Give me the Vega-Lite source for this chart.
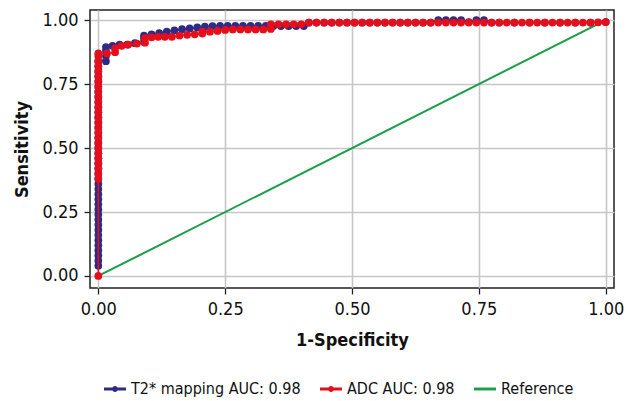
{
  "$schema": "https://vega.github.io/schema/vega-lite/v6.json",
  "width": 524,
  "height": 278,
  "autosize": "none",
  "padding": {"left": 90, "top": 10, "right": 20, "bottom": 113},
  "background": "white",
  "config": {
    "font": "DejaVu Sans Condensed, sans-serif",
    "view": {"stroke": "#222222", "strokeWidth": 1.5},
    "axis": {
      "labelFont": "DejaVu Sans Condensed, sans-serif",
      "titleFont": "DejaVu Sans Condensed, sans-serif",
      "labelFontSize": 18,
      "titleFontSize": 18,
      "titleFontWeight": "bold",
      "labelColor": "#111111",
      "titleColor": "#111111",
      "tickColor": "#222222",
      "tickSize": 6,
      "tickWidth": 1.3,
      "domain": false,
      "grid": true,
      "gridColor": "#C6C6C6",
      "gridWidth": 1.6
    }
  },
  "data": {
    "values": [
      {"s": "Reference", "x": 0, "y": 0},
      {"s": "Reference", "x": 1, "y": 1},

      {"s": "T2* mapping AUC: 0.98", "x": 0, "y": 0.04},
      {"s": "T2* mapping AUC: 0.98", "x": 0, "y": 0.06},
      {"s": "T2* mapping AUC: 0.98", "x": 0, "y": 0.08},
      {"s": "T2* mapping AUC: 0.98", "x": 0, "y": 0.10},
      {"s": "T2* mapping AUC: 0.98", "x": 0, "y": 0.12},
      {"s": "T2* mapping AUC: 0.98", "x": 0, "y": 0.14},
      {"s": "T2* mapping AUC: 0.98", "x": 0, "y": 0.16},
      {"s": "T2* mapping AUC: 0.98", "x": 0, "y": 0.18},
      {"s": "T2* mapping AUC: 0.98", "x": 0, "y": 0.20},
      {"s": "T2* mapping AUC: 0.98", "x": 0, "y": 0.22},
      {"s": "T2* mapping AUC: 0.98", "x": 0, "y": 0.24},
      {"s": "T2* mapping AUC: 0.98", "x": 0, "y": 0.26},
      {"s": "T2* mapping AUC: 0.98", "x": 0, "y": 0.28},
      {"s": "T2* mapping AUC: 0.98", "x": 0, "y": 0.30},
      {"s": "T2* mapping AUC: 0.98", "x": 0, "y": 0.32},
      {"s": "T2* mapping AUC: 0.98", "x": 0, "y": 0.34},
      {"s": "T2* mapping AUC: 0.98", "x": 0, "y": 0.36},
      {"s": "T2* mapping AUC: 0.98", "x": 0, "y": 0.38},
      {"s": "T2* mapping AUC: 0.98", "x": 0, "y": 0.40},
      {"s": "T2* mapping AUC: 0.98", "x": 0, "y": 0.42},
      {"s": "T2* mapping AUC: 0.98", "x": 0, "y": 0.44},
      {"s": "T2* mapping AUC: 0.98", "x": 0, "y": 0.46},
      {"s": "T2* mapping AUC: 0.98", "x": 0, "y": 0.48},
      {"s": "T2* mapping AUC: 0.98", "x": 0, "y": 0.50},
      {"s": "T2* mapping AUC: 0.98", "x": 0, "y": 0.52},
      {"s": "T2* mapping AUC: 0.98", "x": 0, "y": 0.54},
      {"s": "T2* mapping AUC: 0.98", "x": 0, "y": 0.56},
      {"s": "T2* mapping AUC: 0.98", "x": 0, "y": 0.58},
      {"s": "T2* mapping AUC: 0.98", "x": 0, "y": 0.60},
      {"s": "T2* mapping AUC: 0.98", "x": 0, "y": 0.62},
      {"s": "T2* mapping AUC: 0.98", "x": 0, "y": 0.64},
      {"s": "T2* mapping AUC: 0.98", "x": 0, "y": 0.66},
      {"s": "T2* mapping AUC: 0.98", "x": 0, "y": 0.68},
      {"s": "T2* mapping AUC: 0.98", "x": 0, "y": 0.70},
      {"s": "T2* mapping AUC: 0.98", "x": 0, "y": 0.72},
      {"s": "T2* mapping AUC: 0.98", "x": 0, "y": 0.74},
      {"s": "T2* mapping AUC: 0.98", "x": 0, "y": 0.76},
      {"s": "T2* mapping AUC: 0.98", "x": 0, "y": 0.78},
      {"s": "T2* mapping AUC: 0.98", "x": 0, "y": 0.80},
      {"s": "T2* mapping AUC: 0.98", "x": 0, "y": 0.82},
      {"s": "T2* mapping AUC: 0.98", "x": 0, "y": 0.84},
      {"s": "T2* mapping AUC: 0.98", "x": 0.015, "y": 0.84},
      {"s": "T2* mapping AUC: 0.98", "x": 0.015, "y": 0.86},
      {"s": "T2* mapping AUC: 0.98", "x": 0.015, "y": 0.88},
      {"s": "T2* mapping AUC: 0.98", "x": 0.015, "y": 0.895},
      {"s": "T2* mapping AUC: 0.98", "x": 0.028, "y": 0.90},
      {"s": "T2* mapping AUC: 0.98", "x": 0.042, "y": 0.905},
      {"s": "T2* mapping AUC: 0.98", "x": 0.057, "y": 0.905},
      {"s": "T2* mapping AUC: 0.98", "x": 0.072, "y": 0.91},
      {"s": "T2* mapping AUC: 0.98", "x": 0.09, "y": 0.915},
      {"s": "T2* mapping AUC: 0.98", "x": 0.09, "y": 0.93},
      {"s": "T2* mapping AUC: 0.98", "x": 0.09, "y": 0.94},
      {"s": "T2* mapping AUC: 0.98", "x": 0.105, "y": 0.945},
      {"s": "T2* mapping AUC: 0.98", "x": 0.12, "y": 0.95},
      {"s": "T2* mapping AUC: 0.98", "x": 0.135, "y": 0.955},
      {"s": "T2* mapping AUC: 0.98", "x": 0.15, "y": 0.96},
      {"s": "T2* mapping AUC: 0.98", "x": 0.165, "y": 0.965},
      {"s": "T2* mapping AUC: 0.98", "x": 0.18, "y": 0.968},
      {"s": "T2* mapping AUC: 0.98", "x": 0.195, "y": 0.972},
      {"s": "T2* mapping AUC: 0.98", "x": 0.21, "y": 0.975},
      {"s": "T2* mapping AUC: 0.98", "x": 0.225, "y": 0.977},
      {"s": "T2* mapping AUC: 0.98", "x": 0.24, "y": 0.978},
      {"s": "T2* mapping AUC: 0.98", "x": 0.255, "y": 0.978},
      {"s": "T2* mapping AUC: 0.98", "x": 0.27, "y": 0.978},
      {"s": "T2* mapping AUC: 0.98", "x": 0.285, "y": 0.978},
      {"s": "T2* mapping AUC: 0.98", "x": 0.30, "y": 0.978},
      {"s": "T2* mapping AUC: 0.98", "x": 0.315, "y": 0.978},
      {"s": "T2* mapping AUC: 0.98", "x": 0.33, "y": 0.978},
      {"s": "T2* mapping AUC: 0.98", "x": 0.345, "y": 0.977},
      {"s": "T2* mapping AUC: 0.98", "x": 0.36, "y": 0.977},
      {"s": "T2* mapping AUC: 0.98", "x": 0.375, "y": 0.977},
      {"s": "T2* mapping AUC: 0.98", "x": 0.39, "y": 0.977},
      {"s": "T2* mapping AUC: 0.98", "x": 0.405, "y": 0.977},
      {"s": "T2* mapping AUC: 0.98", "x": 0.415, "y": 0.991},
      {"s": "T2* mapping AUC: 0.98", "x": 0.43, "y": 0.991},
      {"s": "T2* mapping AUC: 0.98", "x": 0.445, "y": 0.991},
      {"s": "T2* mapping AUC: 0.98", "x": 0.46, "y": 0.991},
      {"s": "T2* mapping AUC: 0.98", "x": 0.475, "y": 0.991},
      {"s": "T2* mapping AUC: 0.98", "x": 0.49, "y": 0.991},
      {"s": "T2* mapping AUC: 0.98", "x": 0.505, "y": 0.991},
      {"s": "T2* mapping AUC: 0.98", "x": 0.52, "y": 0.991},
      {"s": "T2* mapping AUC: 0.98", "x": 0.535, "y": 0.991},
      {"s": "T2* mapping AUC: 0.98", "x": 0.55, "y": 0.991},
      {"s": "T2* mapping AUC: 0.98", "x": 0.565, "y": 0.991},
      {"s": "T2* mapping AUC: 0.98", "x": 0.58, "y": 0.991},
      {"s": "T2* mapping AUC: 0.98", "x": 0.595, "y": 0.991},
      {"s": "T2* mapping AUC: 0.98", "x": 0.61, "y": 0.991},
      {"s": "T2* mapping AUC: 0.98", "x": 0.625, "y": 0.991},
      {"s": "T2* mapping AUC: 0.98", "x": 0.64, "y": 0.991},
      {"s": "T2* mapping AUC: 0.98", "x": 0.655, "y": 0.991},
      {"s": "T2* mapping AUC: 0.98", "x": 0.67, "y": 1.0},
      {"s": "T2* mapping AUC: 0.98", "x": 0.685, "y": 1.0},
      {"s": "T2* mapping AUC: 0.98", "x": 0.70, "y": 1.0},
      {"s": "T2* mapping AUC: 0.98", "x": 0.715, "y": 1.0},
      {"s": "T2* mapping AUC: 0.98", "x": 0.73, "y": 0.993},
      {"s": "T2* mapping AUC: 0.98", "x": 0.745, "y": 1.0},
      {"s": "T2* mapping AUC: 0.98", "x": 0.76, "y": 1.0},
      {"s": "T2* mapping AUC: 0.98", "x": 0.775, "y": 0.991},
      {"s": "T2* mapping AUC: 0.98", "x": 0.79, "y": 0.991},
      {"s": "T2* mapping AUC: 0.98", "x": 0.82, "y": 0.991},
      {"s": "T2* mapping AUC: 0.98", "x": 0.85, "y": 0.991},
      {"s": "T2* mapping AUC: 0.98", "x": 0.88, "y": 0.991},
      {"s": "T2* mapping AUC: 0.98", "x": 0.91, "y": 0.991},
      {"s": "T2* mapping AUC: 0.98", "x": 0.94, "y": 0.991},
      {"s": "T2* mapping AUC: 0.98", "x": 0.97, "y": 0.991},
      {"s": "T2* mapping AUC: 0.98", "x": 1.0, "y": 0.993},

      {"s": "ADC AUC: 0.98", "x": 0, "y": 0},
      {"s": "ADC AUC: 0.98", "x": 0, "y": 0.38},
      {"s": "ADC AUC: 0.98", "x": 0, "y": 0.40},
      {"s": "ADC AUC: 0.98", "x": 0, "y": 0.42},
      {"s": "ADC AUC: 0.98", "x": 0, "y": 0.44},
      {"s": "ADC AUC: 0.98", "x": 0, "y": 0.46},
      {"s": "ADC AUC: 0.98", "x": 0, "y": 0.48},
      {"s": "ADC AUC: 0.98", "x": 0, "y": 0.50},
      {"s": "ADC AUC: 0.98", "x": 0, "y": 0.52},
      {"s": "ADC AUC: 0.98", "x": 0, "y": 0.54},
      {"s": "ADC AUC: 0.98", "x": 0, "y": 0.56},
      {"s": "ADC AUC: 0.98", "x": 0, "y": 0.58},
      {"s": "ADC AUC: 0.98", "x": 0, "y": 0.60},
      {"s": "ADC AUC: 0.98", "x": 0, "y": 0.62},
      {"s": "ADC AUC: 0.98", "x": 0, "y": 0.64},
      {"s": "ADC AUC: 0.98", "x": 0, "y": 0.66},
      {"s": "ADC AUC: 0.98", "x": 0, "y": 0.68},
      {"s": "ADC AUC: 0.98", "x": 0, "y": 0.70},
      {"s": "ADC AUC: 0.98", "x": 0, "y": 0.72},
      {"s": "ADC AUC: 0.98", "x": 0, "y": 0.74},
      {"s": "ADC AUC: 0.98", "x": 0, "y": 0.76},
      {"s": "ADC AUC: 0.98", "x": 0, "y": 0.78},
      {"s": "ADC AUC: 0.98", "x": 0, "y": 0.80},
      {"s": "ADC AUC: 0.98", "x": 0, "y": 0.82},
      {"s": "ADC AUC: 0.98", "x": 0, "y": 0.84},
      {"s": "ADC AUC: 0.98", "x": 0, "y": 0.86},
      {"s": "ADC AUC: 0.98", "x": 0, "y": 0.87},
      {"s": "ADC AUC: 0.98", "x": 0.017, "y": 0.87},
      {"s": "ADC AUC: 0.98", "x": 0.033, "y": 0.875},
      {"s": "ADC AUC: 0.98", "x": 0.033, "y": 0.89},
      {"s": "ADC AUC: 0.98", "x": 0.046, "y": 0.90},
      {"s": "ADC AUC: 0.98", "x": 0.059, "y": 0.905},
      {"s": "ADC AUC: 0.98", "x": 0.076, "y": 0.909},
      {"s": "ADC AUC: 0.98", "x": 0.092, "y": 0.912},
      {"s": "ADC AUC: 0.98", "x": 0.092, "y": 0.93},
      {"s": "ADC AUC: 0.98", "x": 0.105, "y": 0.933},
      {"s": "ADC AUC: 0.98", "x": 0.118, "y": 0.935},
      {"s": "ADC AUC: 0.98", "x": 0.131, "y": 0.935},
      {"s": "ADC AUC: 0.98", "x": 0.145, "y": 0.935},
      {"s": "ADC AUC: 0.98", "x": 0.16, "y": 0.94},
      {"s": "ADC AUC: 0.98", "x": 0.175, "y": 0.943},
      {"s": "ADC AUC: 0.98", "x": 0.19, "y": 0.945},
      {"s": "ADC AUC: 0.98", "x": 0.205, "y": 0.948},
      {"s": "ADC AUC: 0.98", "x": 0.205, "y": 0.955},
      {"s": "ADC AUC: 0.98", "x": 0.22, "y": 0.955},
      {"s": "ADC AUC: 0.98", "x": 0.235, "y": 0.958},
      {"s": "ADC AUC: 0.98", "x": 0.25, "y": 0.962},
      {"s": "ADC AUC: 0.98", "x": 0.265, "y": 0.964},
      {"s": "ADC AUC: 0.98", "x": 0.28, "y": 0.964},
      {"s": "ADC AUC: 0.98", "x": 0.295, "y": 0.964},
      {"s": "ADC AUC: 0.98", "x": 0.31, "y": 0.964},
      {"s": "ADC AUC: 0.98", "x": 0.325, "y": 0.964},
      {"s": "ADC AUC: 0.98", "x": 0.34, "y": 0.966},
      {"s": "ADC AUC: 0.98", "x": 0.34, "y": 0.984},
      {"s": "ADC AUC: 0.98", "x": 0.355, "y": 0.984},
      {"s": "ADC AUC: 0.98", "x": 0.37, "y": 0.984},
      {"s": "ADC AUC: 0.98", "x": 0.385, "y": 0.984},
      {"s": "ADC AUC: 0.98", "x": 0.40, "y": 0.984},
      {"s": "ADC AUC: 0.98", "x": 0.415, "y": 0.991},
      {"s": "ADC AUC: 0.98", "x": 0.43, "y": 0.991},
      {"s": "ADC AUC: 0.98", "x": 0.445, "y": 0.991},
      {"s": "ADC AUC: 0.98", "x": 0.46, "y": 0.991},
      {"s": "ADC AUC: 0.98", "x": 0.475, "y": 0.991},
      {"s": "ADC AUC: 0.98", "x": 0.49, "y": 0.991},
      {"s": "ADC AUC: 0.98", "x": 0.505, "y": 0.991},
      {"s": "ADC AUC: 0.98", "x": 0.52, "y": 0.991},
      {"s": "ADC AUC: 0.98", "x": 0.535, "y": 0.991},
      {"s": "ADC AUC: 0.98", "x": 0.55, "y": 0.991},
      {"s": "ADC AUC: 0.98", "x": 0.565, "y": 0.991},
      {"s": "ADC AUC: 0.98", "x": 0.58, "y": 0.991},
      {"s": "ADC AUC: 0.98", "x": 0.595, "y": 0.991},
      {"s": "ADC AUC: 0.98", "x": 0.61, "y": 0.991},
      {"s": "ADC AUC: 0.98", "x": 0.625, "y": 0.991},
      {"s": "ADC AUC: 0.98", "x": 0.64, "y": 0.991},
      {"s": "ADC AUC: 0.98", "x": 0.655, "y": 0.991},
      {"s": "ADC AUC: 0.98", "x": 0.67, "y": 0.991},
      {"s": "ADC AUC: 0.98", "x": 0.685, "y": 0.991},
      {"s": "ADC AUC: 0.98", "x": 0.70, "y": 0.991},
      {"s": "ADC AUC: 0.98", "x": 0.715, "y": 0.991},
      {"s": "ADC AUC: 0.98", "x": 0.73, "y": 0.991},
      {"s": "ADC AUC: 0.98", "x": 0.745, "y": 0.991},
      {"s": "ADC AUC: 0.98", "x": 0.76, "y": 0.991},
      {"s": "ADC AUC: 0.98", "x": 0.775, "y": 0.991},
      {"s": "ADC AUC: 0.98", "x": 0.79, "y": 0.991},
      {"s": "ADC AUC: 0.98", "x": 0.805, "y": 0.991},
      {"s": "ADC AUC: 0.98", "x": 0.82, "y": 0.991},
      {"s": "ADC AUC: 0.98", "x": 0.835, "y": 0.991},
      {"s": "ADC AUC: 0.98", "x": 0.85, "y": 0.991},
      {"s": "ADC AUC: 0.98", "x": 0.865, "y": 0.991},
      {"s": "ADC AUC: 0.98", "x": 0.88, "y": 0.991},
      {"s": "ADC AUC: 0.98", "x": 0.895, "y": 0.991},
      {"s": "ADC AUC: 0.98", "x": 0.91, "y": 0.991},
      {"s": "ADC AUC: 0.98", "x": 0.925, "y": 0.991},
      {"s": "ADC AUC: 0.98", "x": 0.94, "y": 0.991},
      {"s": "ADC AUC: 0.98", "x": 0.955, "y": 0.991},
      {"s": "ADC AUC: 0.98", "x": 0.97, "y": 0.991},
      {"s": "ADC AUC: 0.98", "x": 0.985, "y": 0.992},
      {"s": "ADC AUC: 0.98", "x": 1.0, "y": 0.993}
    ]
  },
  "encoding": {
    "x": {
      "field": "x",
      "type": "quantitative",
      "scale": {"domain": [-0.0164, 1.0163], "nice": false, "zero": false},
      "axis": {"title": "1-Specificity", "values": [0, 0.25, 0.5, 0.75, 1], "format": ".2f", "labelPadding": 6, "titlePadding": 13}
    },
    "y": {
      "field": "y",
      "type": "quantitative",
      "scale": {"domain": [-0.047, 1.04], "nice": false, "zero": false},
      "axis": {"title": "Sensitivity", "values": [0, 0.25, 0.5, 0.75, 1], "format": ".2f", "labelPadding": 6, "titlePadding": 10}
    },
    "color": {
      "field": "s",
      "type": "nominal",
      "scale": {
        "domain": ["T2* mapping AUC: 0.98", "ADC AUC: 0.98", "Reference"],
        "range": ["#2E2B87", "#E50F1C", "#1A9E46"]
      },
      "legend": {
        "orient": "none",
        "legendX": 14,
        "legendY": 368,
        "direction": "horizontal",
        "title": null,
        "labelFont": "DejaVu Sans Condensed, sans-serif",
        "labelFontSize": 16,
        "labelLimit": 0,
        "labelColor": "#111111",
        "symbolSize": 420,
        "symbolType": "M-1,-0.07L1,-0.07L1,0.07L-1,0.07Z",
        "columnPadding": 16,
        "labelOffset": 5,
        "encode": {
          "symbols": {
            "update": {
              "shape": {"signal": "datum.value === 'Reference' ? 'M-1,-0.07L1,-0.07L1,0.07L-1,0.07Z' : 'M-1,-0.07L1,-0.07L1,0.07L-1,0.07Z M-0.22,0A0.22,0.22 0 1,0 0.22,0A0.22,0.22 0 1,0 -0.22,0Z'"},
              "fill": {"scale": "color", "field": "value"},
              "stroke": {"value": "transparent"},
              "opacity": {"value": 1}
            }
          }
        }
      }
    }
  },
  "layer": [
    {
      "transform": [{"filter": "datum.s === 'Reference'"}],
      "mark": {"type": "line", "strokeWidth": 2}
    },
    {
      "transform": [{"filter": "datum.s === 'T2* mapping AUC: 0.98'"}],
      "mark": {"type": "line", "strokeWidth": 1.6},
      "encoding": {"order": [{"field": "x", "type": "quantitative"}, {"field": "y", "type": "quantitative"}]}
    },
    {
      "transform": [{"filter": "datum.s === 'T2* mapping AUC: 0.98'"}],
      "mark": {"type": "circle", "size": 60, "opacity": 1}
    },
    {
      "transform": [{"filter": "datum.s === 'ADC AUC: 0.98'"}],
      "mark": {"type": "line", "strokeWidth": 1.6},
      "encoding": {"order": [{"field": "x", "type": "quantitative"}, {"field": "y", "type": "quantitative"}]}
    },
    {
      "transform": [{"filter": "datum.s === 'ADC AUC: 0.98'"}],
      "mark": {"type": "circle", "size": 60, "opacity": 1}
    }
  ]
}
